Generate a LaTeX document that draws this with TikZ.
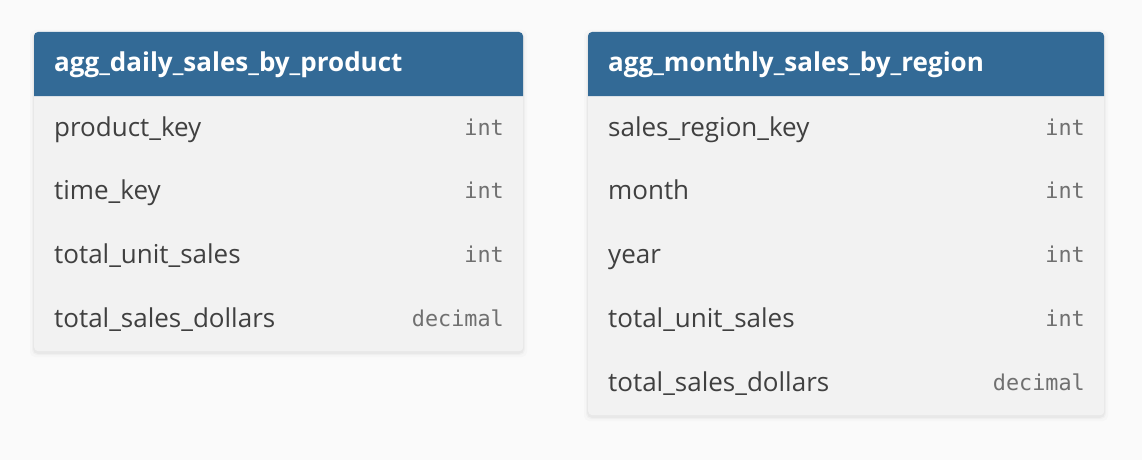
\documentclass[tikz,border=0pt]{standalone}
\usepackage{fontspec}
\setmainfont{Open Sans}
\setmonofont{DejaVu Sans Mono}
\definecolor{bg}{HTML}{FAFAFA}
\definecolor{hdr}{HTML}{336A96}
\definecolor{body}{HTML}{F2F2F2}
\definecolor{fieldc}{HTML}{404040}
\definecolor{typec}{HTML}{707070}
\tikzset{
  tablebody/.style={fill=body, rounded corners=4pt, draw=none, inner sep=0pt, anchor=north west},
  title/.style={anchor=base west, text=white, font=\fontsize{26}{30}\selectfont\bfseries, inner sep=0pt},
  fieldname/.style={anchor=base west, text=fieldc, font=\fontsize{26}{30}\selectfont, inner sep=0pt},
  fieldtype/.style={anchor=base east, text=typec, font=\fontsize{21.8}{26}\selectfont\ttfamily, inner sep=0pt},
}
\begin{document}
\begin{tikzpicture}[x=1pt,y=-1pt]
\fill[bg] (0,0) rectangle (1142,460);
\useasboundingbox (0,0) rectangle (1142,460);
% shadows
\foreach \d/\o in {1/0.03,2/0.025,4/0.015}{
  \fill[black, opacity=\o, rounded corners=5pt] (34-\d,32-\d+2) rectangle (523+\d,351+\d+2);
  \fill[black, opacity=\o, rounded corners=5pt] (588-\d,32-\d+2) rectangle (1104+\d,415+\d+2);
}
% table 1
\node[tablebody, minimum width=489pt, minimum height=319pt] (t1) at (34,32) {};
\fill[hdr] (34,96) [rounded corners=4pt] -- (34,32) -- (523,32) [sharp corners] -- (523,96) -- cycle;
\node[title] (t1h) at (54,71) {agg\_daily\_sales\_by\_product};
\node[fieldname] (t1a) at (54,136) {product\_key};
\node[fieldtype] (t1at) at (504,135) {int};
\node[fieldname] (t1b) at (54,199) {time\_key};
\node[fieldtype] (t1bt) at (504,198) {int};
\node[fieldname] (t1c) at (54,263) {total\_unit\_sales};
\node[fieldtype] (t1ct) at (504,262) {int};
\node[fieldname] (t1d) at (54,327) {total\_sales\_dollars};
\node[fieldtype] (t1dt) at (504,326) {decimal};
% table 2
\node[tablebody, minimum width=516pt, minimum height=383pt] (t2) at (588,32) {};
\fill[hdr] (588,96) [rounded corners=4pt] -- (588,32) -- (1104,32) [sharp corners] -- (1104,96) -- cycle;
\node[title] (t2h) at (608,71) {agg\_monthly\_sales\_by\_region};
\node[fieldname] (t2a) at (608,136) {sales\_region\_key};
\node[fieldtype] (t2at) at (1085,135) {int};
\node[fieldname] (t2b) at (608,199) {month};
\node[fieldtype] (t2bt) at (1085,198) {int};
\node[fieldname] (t2c) at (608,263) {year};
\node[fieldtype] (t2ct) at (1085,262) {int};
\node[fieldname] (t2d) at (608,327) {total\_unit\_sales};
\node[fieldtype] (t2dt) at (1085,326) {int};
\node[fieldname] (t2e) at (608,391) {total\_sales\_dollars};
\node[fieldtype] (t2et) at (1085,390) {decimal};
\end{tikzpicture}
\end{document}
